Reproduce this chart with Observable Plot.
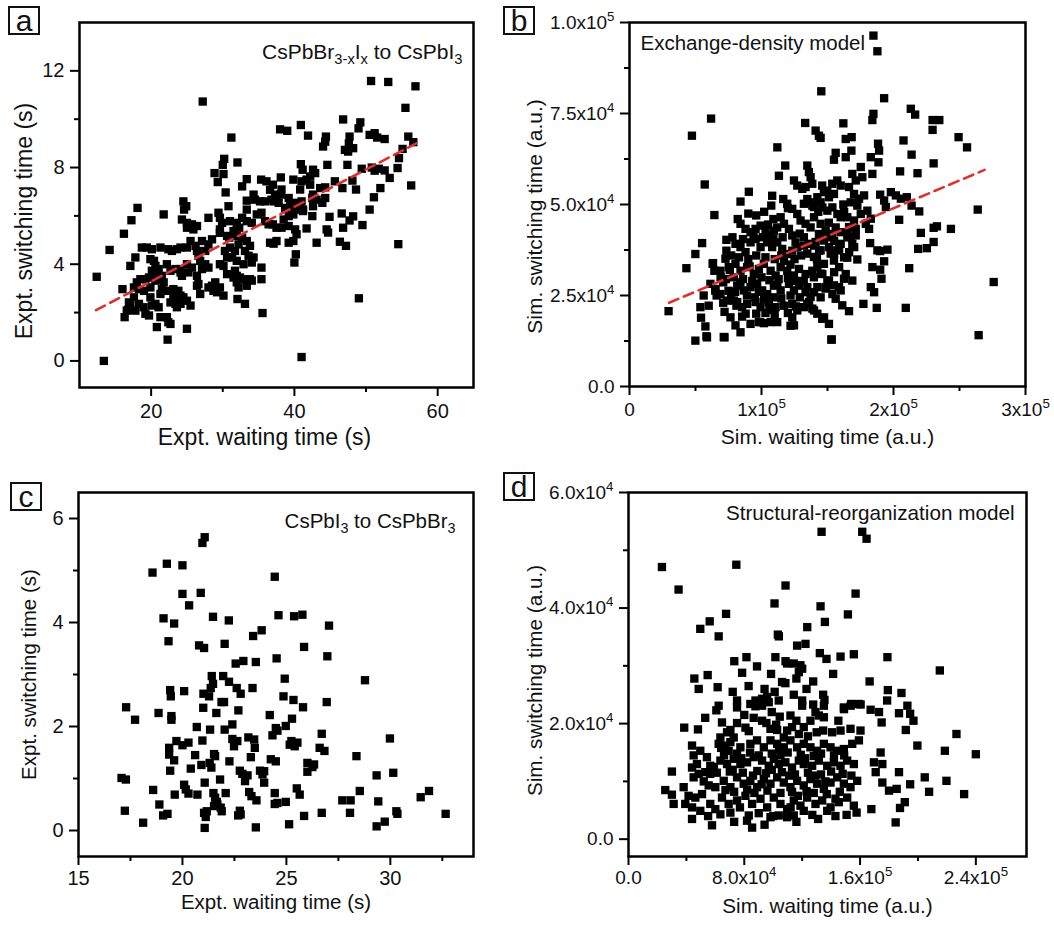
<!DOCTYPE html>
<html>
<head>
<meta charset="utf-8">
<script src="https://cdn.jsdelivr.net/npm/d3@7"></script>
<script src="https://cdn.jsdelivr.net/npm/@observablehq/plot@0.6"></script>
<style>
html,body{margin:0;padding:0;background:#fff;}
#fig{position:relative;width:1054px;height:928px;overflow:hidden;font-family:"Liberation Sans",Arial,sans-serif;color:#111;}
.panel{position:absolute;}
.panel svg{max-width:none !important;}
.tag{position:absolute;box-sizing:border-box;width:32px;height:29px;border:2px solid #111;font-size:30px;line-height:26px;text-align:center;color:#111;}
</style>
</head>
<body>
<div id="fig"></div>
<script>
// ---------------- Panel a: CsPbBr3-xIx to CsPbI3 (x: waiting s, y: switching s)
const aPoints = [
[13.4,0.0],[12.4,3.48],[14.2,4.59],[16.2,5.26],[17.25,5.82],[18.1,6.33],[21.75,6.06],[16.0,2.97],[16.3,1.81],[16.8,2.11],
[30.2,8.36],[32.05,8.21],[30.0,8.11],[28.85,7.77],[30.1,7.73],[29.3,7.4],[30.4,6.97],[33.35,7.52],[32.7,7.22],
[35.35,7.5],[36.1,7.43],[36.6,7.08],[34.3,6.88],[34.5,6.67],[35.2,6.6],[35.9,6.6],[36.8,6.67],
[33.35,6.63],[33.35,6.26],[32.7,5.92],[33.35,5.78],[34.05,5.71],[34.75,6.06],[35.4,6.13],[30.8,6.4],
[35.9,5.78],[36.4,5.65],[24.5,6.6],[24.9,6.4],[24.6,6.26],
[24.3,5.85],[25.0,5.71],[25.7,5.65],[26.4,5.58],[25.9,5.44],[25.0,5.51],
[28.0,5.92],[29.4,6.13],[29.6,5.92],[29.9,5.71],[29.6,5.44],[29.6,5.3],
[31.0,5.78],[31.95,5.71],[32.3,5.51],[31.5,5.37],[30.9,5.1],[31.95,5.17],
[32.7,5.1],[33.35,4.96],[33.8,4.76],[33.1,4.55],[33.6,4.35],[34.3,4.28],[34.05,4.07],[32.9,4.0],[31.95,4.14],[31.3,4.28],[31.0,4.69],[31.7,4.55],[32.2,4.82],
[30.6,5.17],[30.3,4.55],[30.6,4.28],[30.1,3.93],[29.6,4.0],[30.6,3.59],[31.5,3.45],[31.95,3.52],[32.4,3.45],[31.7,3.73],
[33.8,3.38],[34.05,3.32],[35.4,3.86],[35.4,3.38],[33.1,3.38],[33.35,3.11],[32.2,3.04],[31.95,3.25],
[28.95,3.25],[29.6,3.04],[30.1,2.7],[29.2,2.84],[28.5,3.11],[32.05,2.56],[33.1,2.36],[35.55,1.98],
[26.6,4.35],[26.85,4.14],[27.55,4.0],[27.1,3.8],[28.0,3.86],[26.4,4.55],[26.2,4.76],[27.55,4.55],[28.0,4.82],[27.1,4.96],
[28.5,5.03],[25.5,4.96],[25.0,4.69],[24.1,4.69],[26.4,3.11],[26.85,2.77],[26.6,3.18],
[25.0,4.0],[25.7,3.86],[24.1,3.8],[24.3,3.52],[25.2,3.66],[26.4,3.52],[28.0,3.04],[28.7,2.9],
[18.7,4.69],[19.4,4.69],[20.1,4.62],[21.3,4.69],[22.4,4.62],[23.6,4.62],[22.9,4.55],[17.8,4.28],[17.1,3.93],
[19.9,4.21],[20.4,4.14],[20.6,3.93],[21.05,3.8],[20.1,3.73],[20.8,3.59],[21.5,3.52],[21.3,3.38],[21.75,3.25],[20.6,3.32],
[19.7,3.45],[19.2,3.38],[18.5,3.38],[18.0,3.25],[17.6,3.04],[18.3,2.97],[19.0,2.9],[19.9,3.04],
[22.2,4.0],[22.7,3.73],[23.4,3.8],[24.1,3.66],
[21.5,2.97],[21.3,2.77],[22.2,2.9],[23.1,2.97],[23.8,2.9],[23.4,2.77],[24.1,2.7],[24.5,2.63],[25.0,2.49],[25.5,2.29],
[23.8,2.56],[23.1,2.63],[22.7,2.42],[23.4,2.36],[24.1,2.36],[23.6,2.22],
[16.9,2.42],[17.6,2.63],[17.1,2.29],[18.3,2.36],[18.95,2.22],[19.2,1.95],[19.7,1.88],[16.6,2.08],[17.8,2.08],
[20.6,2.36],[21.05,2.22],[21.3,1.81],[20.8,1.4],[22.2,1.81],[22.4,1.6],[22.7,1.53],[25.0,1.33],[22.3,0.88],[20.1,2.29],[19.9,2.63],
[50.7,11.58],[53.1,11.54],[56.9,11.36],[55.5,10.47],[27.2,10.73],[38.0,9.58],[39.0,9.52],[40.9,9.76],[41.9,9.32],[44.4,9.28],[44.3,9.07],[44.0,8.87],
[46.8,9.99],[49.2,9.87],[48.95,9.62],[47.7,9.28],[47.6,9.0],[47.05,8.73],[47.5,8.66],[48.2,8.8],[31.2,9.24],
[50.5,9.35],[51.2,9.42],[51.55,9.24],[52.6,9.18],[55.9,9.28],[56.6,9.05],[55.1,8.77],[54.6,8.39],[54.4,7.98],
[40.9,8.14],[41.15,7.91],[44.6,8.11],[47.4,8.11],[49.4,7.95],[50.8,8.0],[51.2,7.87],[51.8,7.95],[52.6,7.88],[53.3,7.57],[56.3,7.26],
[42.6,7.91],[42.9,7.77],[42.2,7.63],[41.7,7.5],[41.0,7.43],[38.1,7.59],[39.85,7.5],
[37.0,7.29],[37.3,6.88],[37.5,6.74],[37.1,6.6],[37.8,6.54],[38.2,7.09],[38.1,6.88],[39.2,6.74],
[40.8,7.09],[42.2,7.29],[43.6,7.15],[44.3,7.18],[45.65,7.43],[46.7,7.15],[48.1,7.46],[48.6,7.09],[51.1,6.77],[52.0,7.15],
[42.6,6.88],[42.5,6.74],[43.1,6.67],[44.3,6.74],
[38.7,6.33],[39.4,6.4],[40.1,6.54],[40.8,6.47],[41.2,6.26],[40.5,6.26],[41.0,6.6],[40.3,6.33],
[42.6,6.4],[43.9,6.54],[39.2,5.99],[39.85,6.06],[41.2,6.2],[42.5,5.99],[44.9,5.96],[46.6,6.1],[50.5,6.26],[47.7,5.81],[48.2,5.98],[49.5,5.62],
[38.2,5.51],[37.0,5.65],[37.5,5.51],[38.5,5.85],[39.2,5.58],[40.1,5.44],[40.3,5.24],[39.85,4.96],[39.2,4.89],[41.7,5.48],
[44.5,5.44],[44.7,5.31],[46.8,5.51],[43.1,4.89],[46.35,4.93],[47.2,4.76],[54.5,4.83],[40.2,4.41],[40.0,4.07],[49.0,2.59],
[36.6,4.89],[37.1,4.85],[37.5,4.96],[41.0,0.16]
];
const aFitX = [12.3, 57.0];
const aFitY = [2.1, 9.0];
const aXTicks = [20, 40, 60];
const aXMinor = [30, 50];
const aYTicks = [0, 4, 8, 12];
const aYMinor = [2, 6, 10];

// ---------------- Panel b: Exchange-density model (values in units of 1e4 a.u.)
const bPoints = [
[6.18,7.36],[4.73,6.89],[11.2,6.57],[11.8,6.07],
[5.70,5.55],[6.43,4.71],[9.04,5.35],[8.41,5.08],[11.32,5.79],[10.81,5.24],[10.74,4.97],[11.65,5.15],[11.95,5.02],[12.33,4.88],[12.46,5.66],[12.71,5.52],[13.09,5.43],
[12.71,4.74],[12.96,4.56],[11.45,4.65],[11.7,4.47],[12.08,4.33],[12.33,4.15],[12.58,3.96],
[8.41,4.47],[8.79,4.33],[9.17,4.24],[9.55,4.33],[9.93,4.42],[10.31,4.24],[10.69,4.15],[10.94,4.28],[11.19,4.37],
[7.34,4.03],[7.34,3.73],[7.27,3.51],[6.33,3.39],[5.5,3.94],[4.99,3.64],[4.31,3.25],
[8.03,3.92],[8.41,3.83],[8.79,3.69],[9.17,3.96],[9.55,4.05],[9.93,3.83],[10.43,3.96],[10.81,3.83],[11.19,3.96],[11.57,3.78],[11.95,3.64],[12.33,3.73],[12.71,3.83],[13.22,3.87],
[6.89,3.18],[7.52,3.28],[8.03,3.37],[8.41,3.18],[8.91,3.28],[9.42,3.09],[9.8,3.23],[10.18,3.37],[10.69,3.18],[11.07,3.05],[11.45,3.28],[11.95,3.18],[12.46,3.05],[12.84,3.23],
[6.13,2.82],[6.51,2.68],[6.89,2.54],[8.16,2.77],[8.66,2.64],[9.17,2.73],[9.67,2.82],[10.05,2.64],[10.43,2.54],[10.94,2.77],[11.45,2.64],[12.08,2.82],[12.46,2.64],[12.84,2.77],
[5.62,2.5],[5.37,2.18],[6.0,2.22],[8.16,2.32],[8.53,2.18],[8.91,2.27],[9.55,2.32],[9.93,2.18],[10.56,2.32],[11.07,2.18],[11.7,2.22],[12.33,2.27],[12.71,2.09],
[2.96,2.07],[5.42,1.89],[5.75,1.65],[5.83,1.38],[4.99,1.26],[7.14,1.36],
[7.65,1.9],[8.03,1.68],[8.41,1.49],[8.53,1.92],[9.17,1.72],[9.8,1.77],[10.18,1.74],[10.69,1.77],[11.19,1.77],[12.33,1.9],[12.46,1.68],
[6.3,3.37],[6.43,3.18],[6.9,3.0],[7.1,2.86],[6.5,2.63],[6.6,2.5],[7.5,2.63],[7.4,2.36],[7.9,2.36],[8.1,2.22],[8.4,2.86],[5.87,1.35],[7.2,1.35],[9.9,1.77],[12.2,1.67],
[7.8,4.1],[8.6,4.05],[9.4,4.15],[10.1,4.1],[10.9,4.05],[11.6,4.1],[12.9,4.2],
[7.7,3.6],[8.3,3.55],[9.0,3.5],[9.6,3.6],[10.3,3.55],[11.0,3.5],[11.7,3.45],[12.5,3.5],[13.0,3.6],
[7.3,2.95],[7.9,3.0],[8.6,2.95],[9.3,2.9],[10.0,3.0],[10.6,2.92],[11.3,2.95],[12.0,2.98],[12.6,2.9],
[7.1,2.3],[7.7,2.45],[8.9,2.5],[9.5,2.45],[10.2,2.4],[10.9,2.45],[11.5,2.42],[12.2,2.5],[12.9,2.45],
[7.2,2.05],[8.8,2.0],[9.6,2.0],[10.3,2.02],[11.0,1.98],[12.0,2.02],
[9.6,4.7],[10.2,4.8],[10.9,4.6],[9.0,4.75],
[8.2,4.6],[10.5,4.45],[12.0,4.9],[7.6,3.2],[9.1,3.3],[11.5,3.6],[12.2,3.35],[8.0,2.6],[9.8,2.6],[11.2,2.8],[10.6,2.1],[12.6,2.2],
[13.2,2.9],[14.2,3.5],[15.1,4.5],[15.5,4.0],[14.3,4.8],[16.2,5.0],
[18.48,9.64],[18.78,9.21],[14.53,8.11],[19.29,7.92],[21.31,7.63],[21.64,7.47],[18.48,7.49],[18.4,7.32],[13.31,7.24],[16.2,7.23],
[22.96,7.32],[23.47,7.32],[22.96,7.05],[14.1,7.03],[14.35,6.89],[14.48,6.83],[16.38,6.8],[16.83,6.85],
[18.83,6.67],[18.91,6.48],[18.86,6.16],[20.76,6.76],[24.93,6.85],[25.57,6.57],
[15.62,6.42],[15.49,6.23],[16.38,6.3],[16.81,6.48],[18.28,6.3],[18.4,5.84],[21.37,6.37],[23.04,6.13],[20.5,5.91],[21.82,5.86],
[17.52,6.03],[17.64,5.75],[16.88,5.84],[17.14,5.66],[13.47,6.07],[13.59,5.89],[13.72,5.75],[13.85,5.57],[13.34,5.48],
[14.6,5.52],[14.98,5.38],[15.36,5.57],[15.74,5.66],[16.0,5.52],[15.49,5.29],[15.11,5.2],[14.73,5.34],[14.23,5.2],[14.48,5.06],[13.97,4.93],[13.59,5.06],[13.21,5.02],
[16.63,5.48],[17.01,5.29],[17.39,5.16],[17.77,5.25],[16.76,5.06],[17.26,4.97],[18.02,4.83],[18.28,4.61],[17.52,4.74],[17.9,4.47],[17.01,4.56],[16.5,4.65],[16.63,4.38],[17.14,4.33],[18.15,4.33],
[18.99,5.27],[19.29,5.11],[19.8,5.34],[20.18,5.25],[20.56,5.16],[21.01,5.2],[19.42,4.93],[21.37,4.97],[21.95,4.81],[20.43,4.58],[26.38,4.86],
[22.07,4.22],[23.04,4.36],[23.29,4.4],[24.35,4.33],[21.87,3.78],[22.53,3.8],[23.04,3.97],[21.19,3.25],
[18.23,3.94],[18.78,3.74],[18.99,3.72],[19.54,3.76],[19.29,3.44],[18.4,3.28],[18.99,3.21],[19.09,2.96],[17.26,3.49],[16.5,3.54],
[18.28,2.73],[18.53,2.59],[17.72,2.27],[18.73,2.16],[20.93,2.16],[27.59,2.87],[26.45,1.41],[15.29,1.29],
[15.11,1.72],[14.6,1.86],[14.23,2.0],[13.85,2.14],[13.47,2.27],
[16.63,2.07],[16.12,2.23],[15.62,2.41],[15.87,2.73],[15.49,2.78],[16.25,2.96],[16.88,2.91],[15.11,2.91],[14.48,3.1],[13.97,3.0],[14.23,2.73],[14.86,2.69],[13.72,2.46],[13.34,2.59],
[15.49,3.46],[15.24,3.65],[15.74,3.74],[16.0,3.92],[15.36,4.1],[14.86,4.19],[14.35,4.19],[14.1,3.97],[14.48,3.74],[13.97,3.56],[14.73,3.37],[13.47,3.65],[13.59,3.92],[13.21,4.1],
[16.76,4.1],[16.5,4.19],[17.14,4.15],[16.88,3.92],
[13.47,5.15],[13.85,4.97],[14.23,5.06],[14.61,4.92],[14.99,4.83],[15.37,4.92],[15.75,4.74],[16.0,4.65],[16.26,4.79],
[13.34,4.47],[13.72,4.37],[13.98,4.65],[14.48,4.47],[14.86,4.28],[15.24,4.19],[15.62,4.37],[16.0,4.24],[16.51,4.1],
[13.98,3.87],[14.36,3.73],[14.74,4.01],[15.12,3.83],[15.5,3.64],[15.88,3.78],[16.26,3.55],[16.64,3.69],[17.02,3.83],
[13.34,3.09],[13.85,3.18],[14.23,3.28],[14.61,3.09],[14.99,2.91],[15.5,3.14],[15.88,3.28],[16.38,3.09],
[13.47,2.73],[13.98,2.59],[14.48,2.45],[14.86,2.73],[15.37,2.54],[16.0,2.64],[13.22,2.18],[13.6,2.32],[13.98,2.09],[14.74,1.9],[15.32,1.29]
];
const bFitX = [3.0, 26.9];
const bFitY = [2.3, 5.95];
const bXTicks = [0, 1e5, 2e5, 3e5];
const bXTickLabels = ["0", "1x10^{5}", "2x10^{5}", "3x10^{5}"];
const bXMinor = [5e4, 1.5e5, 2.5e5];
const bYTicks = [0, 2.5e4, 5e4, 7.5e4, 1e5];
const bYTickLabels = ["0.0", "2.5x10^{4}", "5.0x10^{4}", "7.5x10^{4}", "1.0x10^{5}"];
const bYMinor = [1.25e4, 3.75e4, 6.25e4, 8.75e4];

// ---------------- Panel c: CsPbI3 to CsPbBr3
const cPoints = [
[21.07,5.64],[20.96,5.53],[19.25,5.13],[18.56,4.96],[20.0,5.1],[24.44,4.88],[20.0,4.55],[20.32,4.33],[20.88,4.57],
[19.09,4.08],[19.6,3.98],[21.47,4.11],[22.23,4.04],[24.62,4.14],[25.37,4.12],[25.77,4.15],[27.05,3.94],
[19.33,3.64],[20.8,3.56],[21.04,3.51],[22.03,3.59],[23.4,3.74],[23.81,3.85],[25.85,3.53],[26.97,3.35],[24.53,3.31],
[22.56,3.21],[22.93,3.26],[23.53,3.24],[21.41,2.97],[21.47,2.82],[21.36,2.74],[21.96,2.97],[22.24,2.86],[22.61,2.74],[22.8,2.63],
[23.37,2.74],[21.01,2.63],[21.28,2.58],[19.41,2.7],[19.44,2.58],[20.08,2.68],[24.92,2.92],[28.78,2.89],[24.86,2.58],[25.34,2.51],
[25.8,2.37],[26.94,2.47],[17.29,2.37],[17.72,2.13],[18.85,2.26],[19.47,2.2],[19.47,2.13],[21.0,2.36],[21.63,2.26],[21.88,2.47],
[22.0,2.47],[22.69,2.31],[24.2,2.22],[25.27,2.15],[22.4,2.04],[21.33,1.94],[22.03,1.94],[20.69,1.99],[24.49,1.97],[24.57,1.92],
[24.97,2.01],[26.7,1.86],[19.71,1.72],[20.0,1.64],[20.29,1.69],[20.96,1.73],[22.4,1.76],[22.64,1.72],[22.48,1.62],
[23.17,1.79],[23.45,1.75],[23.48,1.59],[24.33,1.83],[25.24,1.72],[25.4,1.62],[25.53,1.69],[25.16,1.65],[26.6,1.59],[26.83,1.53],
[29.98,1.77],[19.36,1.59],[19.36,1.46],[19.6,1.35],[20.61,1.45],[21.52,1.47],[21.57,1.43],[23.29,1.41],[24.25,1.37],[24.49,1.33],
[22.26,1.33],[28.37,1.43],[20.91,1.26],[21.31,1.3],[21.39,1.21],[20.4,1.19],[19.41,1.15],[22.76,1.15],[22.88,1.09],
[23.13,1.06],[23.01,0.95],[23.73,1.15],[23.93,1.14],[23.85,1.08],[26.01,1.3],[26.33,1.27],[26.25,1.22],[26.01,1.13],
[29.34,1.06],[30.14,1.11],[17.07,1.01],[17.28,0.98],[21.07,0.92],[21.81,0.98],[23.93,0.92],[20.08,0.88],[20.16,0.79],
[18.59,0.78],[19.63,0.69],[20.29,0.71],[20.72,0.69],[21.49,0.72],[21.57,0.63],[21.65,0.55],[21.68,0.5],[21.52,0.47],[21.84,0.44],
[22.08,0.72],[23.21,0.74],[23.32,0.66],[23.56,0.58],[24.44,0.72],[24.44,0.51],[24.57,0.53],[24.97,0.55],[25.5,0.81],[25.64,0.69],
[27.69,0.58],[28.09,0.58],[28.53,0.76],[29.42,0.56],[31.46,0.64],[31.86,0.76],[18.89,0.5],[19.07,0.29],[19.28,0.32],
[17.23,0.38],[18.11,0.15],[21.04,0.34],[21.17,0.37],[21.12,0.26],[21.89,0.37],[22.76,0.38],[22.68,0.29],[22.8,0.31],
[21.07,0.05],[23.53,0.06],[25.13,0.12],[25.85,0.28],[26.7,0.34],[28.06,0.34],[29.34,0.08],[29.73,0.17],[30.29,0.37],[30.34,0.32],[32.66,0.32]
];
const cXTicks = [15, 20, 25, 30];
const cXMinor = [17.5, 22.5, 27.5, 32.5];
const cYTicks = [0, 2, 4, 6];
const cYMinor = [1, 3, 5];

// ---------------- Panel d: Structural-reorganization model (values in units of 1e4 a.u.)
const dPoints = [
[13.34,5.32],[16.15,5.32],[16.45,5.2],[2.31,4.71],[7.45,4.75],[3.46,4.32],[10.85,4.39],[15.69,4.25],[10.09,4.08],[13.27,4.03],
[6.74,3.9],[15.16,3.89],[13.57,3.76],[5.61,3.77],[4.96,3.64],[6.23,3.51],[10.32,3.54],[10.39,3.51],[12.35,3.67],
[17.89,3.15],[21.51,2.92],[16.66,2.73],[17.92,2.58],[17.87,2.4],[18.86,2.53],[19.27,2.31],[19.46,2.17],[19.69,2.05],[18.69,2.18],
[19.16,1.89],[19.96,1.62],[22.66,1.82],[21.86,1.53],[24.0,1.47],[20.47,1.07],[21.97,1.01],[20.77,0.82],[23.19,0.78],[18.46,0.29],
[17.49,2.02],[16.73,2.24],[17.31,2.2],[16.04,2.33],[17.42,1.5],[16.96,1.33],[17.54,1.3],[17.08,1.16],[18.69,1.16],[18.53,0.87],
[18.76,0.54],[19.09,0.64],[19.46,0.95],[16.78,0.52],[17.54,0.98],[18.0,0.84],
[11.65,3.35],[12.23,3.38],[13.22,3.22],[13.68,3.12],[14.65,3.16],[15.57,3.2],[7.31,3.08],[8.15,3.15],
[10.15,3.15],[10.85,3.08],[10.96,3.04],[11.42,3.04],[11.88,3.01],[12.0,2.95],[11.77,2.89],[8.88,2.99],[7.85,2.88],[9.85,2.86],
[12.76,2.73],[14.14,2.86],[4.55,2.78],[5.47,2.84],[4.85,2.6],[6.16,2.63],[11.6,2.78],[10.61,2.72],[10.84,2.7],
[7.5,2.4],[8.42,2.34],[8.77,2.4],[9.23,2.43],[9.58,2.46],[9.23,2.31],[8.77,2.3],[9.69,2.37],
[10.38,2.4],[11.42,2.5],[12.0,2.4],[12.0,2.31],[12.76,2.33],[13.45,2.5],[13.54,2.41],[13.5,2.31],[12.92,2.2],[13.15,2.14],[12.57,2.05],
[6.23,2.31],[6.07,2.23],[7.5,2.28],[10.45,2.12],[11.19,2.14],[11.6,2.05],[12.11,1.94],[11.3,1.94],[10.96,1.88],[10.73,1.76],[11.77,1.82],
[8.65,2.1],[9.23,2.05],[9.53,2.01],[9.81,1.91],[10.27,1.89],[6.46,2.02],[7.5,2.01],[8.08,1.93],[8.31,1.87],[7.04,1.89],[6.81,1.85],[7.27,1.76],
[3.85,1.93],[6.35,1.76],[6.23,1.65],[7.04,1.68],
[13.45,1.88],[14.07,1.85],[14.65,1.88],[15.34,1.91],[16.03,1.88],[13.5,2.11],[14.88,2.28],[15.39,2.34],[15.92,2.34],[14.89,2.25],[15.35,2.31],
[4.39,1.62],[4.96,1.53],[4.5,1.45],[5.42,1.42],[5.65,1.27],[4.73,1.3],[4.39,1.24],[5.31,1.16],[4.85,1.13],[4.5,1.07],[5.65,1.13],
[6.69,1.62],[6.92,1.53],[7.73,1.59],[8.42,1.65],[8.88,1.71],[9.35,1.59],[9.81,1.71],[10.27,1.65],[10.73,1.59],[11.19,1.71],
[11.65,1.59],[12.11,1.65],[12.57,1.59],[13.03,1.53],[13.5,1.65],[13.96,1.59],[14.42,1.53],[14.88,1.56],[15.46,1.65],[15.92,1.71],
[6.35,1.36],[6.81,1.3],[7.27,1.39],[7.73,1.3],[8.19,1.33],[8.65,1.42],[9.23,1.36],[9.69,1.27],[10.04,1.39],[10.38,1.3],
[10.84,1.33],[11.3,1.24],[11.77,1.36],[12.11,1.3],[12.69,1.27],[13.15,1.36],[13.73,1.27],[14.19,1.33],[14.65,1.27],[15.11,1.36],[15.57,1.3],
[3.0,1.17],[2.54,0.85],[3.0,0.77],[3.12,0.61],
[3.81,0.9],[4.15,0.75],[4.62,0.72],[5.08,0.78],[5.54,0.93],[6.0,0.9],[3.92,0.61],[4.39,0.55],[4.96,0.49],[5.65,0.61],[6.0,0.52],[4.39,0.35],[5.77,0.24],
[6.58,1.01],[7.04,0.9],[7.5,1.07],[7.96,0.96],[8.42,1.01],[8.88,0.9],[9.35,1.04],[9.81,0.96],[10.27,1.07],[10.73,0.98],
[11.19,0.9],[11.65,1.01],[12.11,0.93],[12.57,1.04],[13.03,0.96],[13.5,0.87],[13.96,0.98],[14.42,1.07],[14.88,0.96],[15.34,0.9],[15.8,1.01],
[6.46,0.72],[6.92,0.61],[7.5,0.67],[8.08,0.75],[8.54,0.61],[9.12,0.7],[9.58,0.55],[10.04,0.72],[10.5,0.61],[10.96,0.52],
[11.42,0.67],[11.88,0.58],[12.34,0.72],[12.92,0.61],[13.38,0.67],[13.96,0.55],[14.53,0.64],[15.11,0.72],[15.57,0.58],
[6.35,0.43],[7.04,0.46],[8.31,0.41],[8.19,0.32],[8.54,0.2],[9.81,0.38],[10.38,0.41],[10.96,0.38],[11.42,0.41],[12.11,0.49],[13.73,0.49],[15.07,0.42],[15.76,0.46],
[6.6,1.45],[7.5,1.48],[8.4,1.5],[9.0,1.45],[9.9,1.48],[10.5,1.45],[11.0,1.5],[11.9,1.46],[12.8,1.44],[13.3,1.48],[14.2,1.45],
[6.1,1.15],[7.0,1.17],[7.9,1.15],[8.9,1.18],[9.5,1.14],[10.6,1.16],[11.5,1.12],[12.4,1.15],[13.3,1.12],[14.0,1.17],[14.8,1.13],
[6.7,0.85],[7.3,0.82],[8.2,0.86],[8.7,0.8],[9.6,0.84],[10.5,0.8],[11.3,0.82],[12.3,0.83],[12.8,0.8],[13.7,0.78],[14.6,0.82],
[8.0,2.15],[9.9,2.2],[10.2,1.98],[12.4,1.78],[13.0,1.85],[14.5,2.05],
[7.7,0.55],[9.0,0.45],[10.0,0.4],[11.2,0.55],[12.7,0.42],
[5.2,1.0],[5.9,1.25],[6.4,1.58],[7.2,1.2],[7.8,1.4],[8.6,1.1],[9.2,0.95],[9.9,1.2],[10.4,1.55],[11.1,1.1],[11.7,0.75],[12.2,1.4],
[12.9,1.1],[13.6,1.0],[14.3,0.7],[14.9,1.45],[15.4,1.1],[5.5,0.4],[7.3,0.3],[9.4,0.25],[11.6,0.3],[13.1,0.35],[14.3,0.4],
[4.8,1.9],[5.3,2.1],[9.4,2.6],[10.1,2.55],[12.3,2.6],[8.3,2.65],[7.2,2.55]
];
const dXTicks = [0, 8e4, 1.6e5, 2.4e5];
const dXTickLabels = ["0.0", "8.0x10^{4}", "1.6x10^{5}", "2.4x10^{5}"];
const dXMinor = [4e4, 1.2e5, 2.0e5];
const dYTicks = [0, 2e4, 4e4, 6e4];
const dYTickLabels = ["0.0", "2.0x10^{4}", "4.0x10^{4}", "6.0x10^{4}"];
const dYMinor = [1e4, 3e4, 5e4];

// ---------------- text
const panelTags = ["a", "b", "c", "d"];
const xTitles = ["Expt. waiting time (s)", "Sim. waiting time (a.u.)", "Expt. waiting time (s)", "Sim. waiting time (a.u.)"];
const yTitles = ["Expt. switching time (s)", "Sim. switching time (a.u.)", "Expt. switching time (s)", "Sim. switching time (a.u.)"];
const notes = ["CsPbBr_{3-x}I_{x} to CsPbI_{3}", "Exchange-density model", "CsPbI_{3} to CsPbBr_{3}", "Structural-reorganization model"];

// ---------------- helpers
const NS = "http://www.w3.org/2000/svg";
function rich(svg) {
  svg.querySelectorAll("text").forEach(t => {
    const s = t.textContent;
    if (!/[\^_]\{/.test(s)) return;
    while (t.firstChild) t.removeChild(t.firstChild);
    const re = /([\^_])\{([^}]*)\}/g;
    let last = 0, m, cur = 0;
    const add = (str, sh, small) => {
      const ts = document.createElementNS(NS, "tspan");
      ts.textContent = str;
      if (sh - cur !== 0) ts.setAttribute("dy", sh - cur);
      cur = sh;
      if (small) ts.setAttribute("font-size", small);
      t.appendChild(ts);
    };
    while ((m = re.exec(s))) {
      if (m.index > last) add(s.slice(last, m.index), 0, null);
      add(m[2], m[1] === "^" ? -8 : 5, "70%");
      last = re.lastIndex;
    }
    if (last < s.length) add(s.slice(last), 0, null);
  });
}

const fig = document.getElementById("fig");
const RED = "#e0302e";
const INK = "#000";

function panel(c) {
  const [bx, by, W, H] = c.box;
  const [fl, ft, fr, fb] = c.frame;
  const pts = c.points.map(p => ({x: p[0] * c.scale, y: p[1] * c.scale}));
  const fit = c.fitX.map((v, i) => ({x: v * c.scale, y: c.fitY ? c.fitY[i] * c.scale : 0}));
  const fmt = (ticks, labels) => labels ? (d => labels[ticks.indexOf(d)]) : (d => String(d));
  const marks = [
    Plot.frame({stroke: INK, strokeWidth: 2.5}),
    Plot.axisX({ticks: c.xMinor, tickSize: 5, tickFormat: () => "", label: null, strokeWidth: 2, stroke: INK}),
    Plot.axisY({ticks: c.yMinor, tickSize: 5, tickFormat: () => "", label: null, strokeWidth: 2, stroke: INK}),
    Plot.axisX({ticks: c.xTicks, tickSize: 9, tickPadding: c.xPad, tickFormat: fmt(c.xTicks, c.xLabels), label: null, strokeWidth: 2, stroke: INK, fill: "#111", fontSize: c.tickFont}),
    Plot.axisY({ticks: c.yTicks, tickSize: 9, tickPadding: 6, tickFormat: fmt(c.yTicks, c.yLabels), label: null, strokeWidth: 2, stroke: INK, fill: "#111", fontSize: c.yTickFont || c.tickFont}),
    Plot.dot(pts, {x: "x", y: "y", symbol: "square", r: 4.7, fill: "#000", stroke: "none"})
  ];
  if (c.fitY) marks.push(Plot.line(fit, {x: "x", y: "y", stroke: RED, strokeWidth: 2.6, strokeDasharray: "10,6"}));
  marks.push(
    Plot.text([c.xTitle], {frameAnchor: "bottom", text: d => d, dx: c.xtDx, dy: c.xtDy, lineAnchor: "middle", textAnchor: "middle", fontSize: c.titleFont, fill: "#111"}),
    Plot.text([c.yTitle], {frameAnchor: "left", text: d => d, rotate: -90, dx: c.ytDx, dy: c.ytDy, lineAnchor: "middle", textAnchor: "middle", fontSize: c.titleFont, fill: "#111"}),
    Plot.text([c.note], {frameAnchor: c.noteAnchor, text: d => d, dx: c.noteDx, dy: c.noteDy, lineAnchor: "middle", textAnchor: c.noteAnchor === "top-left" ? "start" : "end", fontSize: c.noteFont, fill: "#111"})
  );
  const svg = Plot.plot({
    width: W, height: H,
    marginLeft: fl - bx, marginTop: ft - by, marginRight: bx + W - fr, marginBottom: by + H - fb,
    x: {domain: c.xDomain}, y: {domain: c.yDomain},
    style: {fontFamily: "'Liberation Sans', Arial, sans-serif", fontSize: "20px", color: "#111", background: "transparent", overflow: "visible"},
    marks
  });
  rich(svg);
  const holder = document.createElement("div");
  holder.className = "panel";
  holder.style.left = bx + "px"; holder.style.top = by + "px";
  holder.style.width = W + "px"; holder.style.height = H + "px";
  holder.appendChild(svg);
  fig.appendChild(holder);
  const tag = document.createElement("div");
  tag.className = "tag";
  tag.style.left = c.tag[0] + "px"; tag.style.top = c.tag[1] + "px";
  tag.textContent = c.tagText;
  fig.appendChild(tag);
}

panel({box: [0, 0, 527, 460], frame: [79, 22, 473, 387], points: aPoints, scale: 1, fitX: aFitX, fitY: aFitY,
  xDomain: [10, 65], yDomain: [-1.1, 14], xTicks: aXTicks, xMinor: aXMinor, yTicks: aYTicks, yMinor: aYMinor, xPad: 7,
  tickFont: 20, titleFont: 23, xTitle: xTitles[0], yTitle: yTitles[0], xtDx: -12, xtDy: 50, ytDx: -55, ytDy: 16,
  note: notes[0], noteAnchor: "top-right", noteDx: -11, noteDy: 30, noteFont: 21, tag: [8, 6], tagText: panelTags[0]});

panel({box: [527, 0, 527, 460], frame: [629, 22, 1025, 386], points: bPoints, scale: 1e4, fitX: bFitX, fitY: bFitY,
  xDomain: [0, 3e5], yDomain: [0, 1e5], xTicks: bXTicks, xLabels: bXTickLabels, xMinor: bXMinor, yTicks: bYTicks, yLabels: bYTickLabels, yMinor: bYMinor, xPad: 7,
  tickFont: 19, yTickFont: 19, titleFont: 21, xTitle: xTitles[1], yTitle: yTitles[1], xtDx: 0, xtDy: 51, ytDx: -94, ytDy: 12,
  note: notes[1], noteAnchor: "top-left", noteDx: 11, noteDy: 21, noteFont: 20.5, tag: [503, 6], tagText: panelTags[1]});

panel({box: [0, 460, 527, 468], frame: [78, 492, 473, 856], points: cPoints, scale: 1, fitX: [], fitY: null,
  xDomain: [15, 34], yDomain: [-0.5, 6.5], xTicks: cXTicks, xMinor: cXMinor, yTicks: cYTicks, yMinor: cYMinor, xPad: 5,
  tickFont: 20, titleFont: 20.5, xTitle: xTitles[2], yTitle: yTitles[2], xtDx: 0, xtDy: 46, ytDx: -49, ytDy: 0,
  note: notes[2], noteAnchor: "top-right", noteDx: -18, noteDy: 29, noteFont: 20.5, tag: [10, 482], tagText: panelTags[2]});

panel({box: [527, 460, 527, 468], frame: [628, 492, 1026, 856], points: dPoints, scale: 1e4, fitX: [], fitY: null,
  xDomain: [0, 2.75e5], yDomain: [-3000, 60000], xTicks: dXTicks, xLabels: dXTickLabels, xMinor: dXMinor, yTicks: dYTicks, yLabels: dYTickLabels, yMinor: dYMinor, xPad: 5,
  tickFont: 19, yTickFont: 19, titleFont: 20.7, xTitle: xTitles[3], yTitle: yTitles[3], xtDx: 0, xtDy: 50, ytDx: -93, ytDy: 6,
  note: notes[3], noteAnchor: "top-right", noteDx: -12, noteDy: 21, noteFont: 20.7, tag: [503, 472], tagText: panelTags[3]});
</script>
</body>
</html>
